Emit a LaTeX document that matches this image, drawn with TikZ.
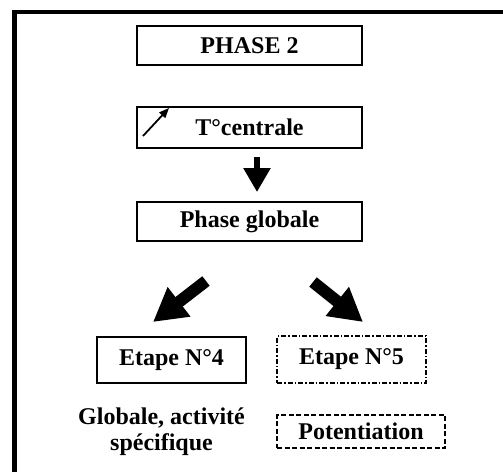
\documentclass[tikz,border=0pt]{standalone}
\usepackage{fontspec}
\setmainfont{Liberation Serif}
\usetikzlibrary{arrows.meta}
\tikzset{
  lbl/.style={font=\fontsize{24}{26}\selectfont\bfseries, inner sep=0pt},
  solidbox/.style={lbl, draw, line width=2pt},
  dashdotbox/.style={lbl, draw, line width=2pt, dash pattern=on 5pt off 2pt on 1.5pt off 2pt},
  dashbox/.style={lbl, draw, line width=2pt, dash pattern=on 5pt off 2.5pt},
  bigarrow/.style={line width=12pt, -{Triangle[length=33pt,width=35pt]}},
  downarrow/.style={line width=5.5pt, -{Triangle[length=24pt,width=26pt]}},
  smallarrow/.style={line width=1.8pt, -{Triangle[length=10pt,width=8pt]}},
}
\begin{document}
\begin{tikzpicture}[x=1pt,y=-1pt]
\useasboundingbox (0,0) rectangle (503,471);
% outer frame (only top and left visible)
\draw[line width=4.5pt] (14.7,475) -- (14.7,12) -- (510,12);

\node[solidbox, minimum width=225pt, minimum height=39pt] (phase) at (249.5,45.5) {PHASE 2};
\node[solidbox, minimum width=225pt, minimum height=41pt] (tc) at (249.5,127.5) {T°centrale};
\node[solidbox, minimum width=225pt, minimum height=39pt] (pg) at (249.5,221.5) {Phase globale};
\node[solidbox, minimum width=149pt, minimum height=46pt] (e4) at (171.5,360) {Etape N°4};
\node[dashdotbox, minimum width=149pt, minimum height=47pt] (e5) at (351.5,359.5) {Etape N°5};
\node[lbl, align=center] (glob) at (161.5,431.5) {Globale, activité\\spécifique};
\node[dashbox, minimum width=168pt, minimum height=33pt] (pot) at (361,431.5) {Potentiation};

% small rising arrow inside T°centrale
\coordinate (sa1) at (143,136);
\coordinate (sa2) at (169,108);
\draw[smallarrow] (sa1) -- (sa2);

% down arrow
\coordinate (d1) at (257,157);
\coordinate (d2) at (257,192);
\draw[downarrow] (d1) -- (d2);

% diagonal arrows
\coordinate (la1) at (206,281);
\coordinate (la2) at (153,322);
\draw[bigarrow] (la1) -- (la2);
\coordinate (ra1) at (313,282);
\coordinate (ra2) at (363,322);
\draw[bigarrow] (ra1) -- (ra2);
\end{tikzpicture}
\end{document}
